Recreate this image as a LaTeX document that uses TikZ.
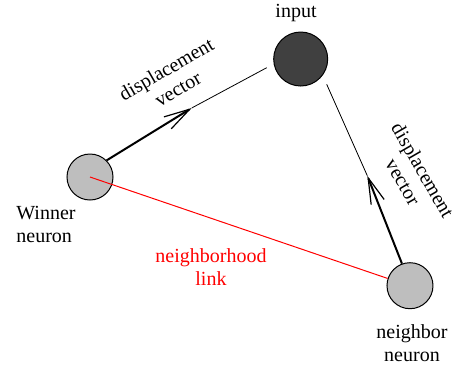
\documentclass[tikz,border=0pt]{standalone}
\usepackage{fontspec}
\setmainfont{Liberation Serif}
\newfontfamily\timesfont{Liberation Serif}
\usetikzlibrary{arrows.meta}
\definecolor{neurongray}{RGB}{190,190,190}
\definecolor{inputgray}{RGB}{64,64,64}
\begin{document}
\begin{tikzpicture}[x=0.5pt,y=-0.5pt,
  font=\timesfont\fontsize{10}{11.5}\selectfont,
  neuron/.style={circle,draw=black,line width=0.5pt,fill=neurongray,minimum size=23pt,inner sep=0pt},
  inputnode/.style={circle,draw=black,line width=0.5pt,fill=inputgray,minimum size=27pt,inner sep=0pt},
  vec/.style={line width=1pt,-{Straight Barb[length=13pt,width=7pt,line width=0.6pt]}},
  thinline/.style={line width=0.4pt},
  lbl/.style={align=center,inner sep=0pt}]
\useasboundingbox (0,0) rectangle (463,372);
\node[neuron] (W) at (90,177) {};
\node[inputnode] (I) at (300.7,59) {};
\node[neuron] (N) at (410,285.7) {};
\coordinate (t1) at (191.7,108);
\coordinate (e1) at (266.7,67.7);
\coordinate (t2) at (367.3,175.7);
\coordinate (e2) at (326.7,84.3);
\draw[red,line width=0.5pt] (W.center) -- (N.162);
\draw[vec] (W.45) -- (t1);
\draw[thinline] (t1) -- (e1);
\draw[vec] (N.110) -- (t2);
\draw[thinline] (t2) -- (e2);
\node[lbl] (Ilbl) at (296,13) {input};
\node[lbl,align=left,anchor=west] (Wlbl) at (16,224) {Winner\\neuron};
\node[lbl] (Nlbl) at (412,343) {neighbor\\neuron};
\node[lbl,text=red] (Llbl) at (211,267) {neighborhood\\link};
\node[lbl,rotate=30] (D1) at (172,79) {displacement\\vector};
\node[lbl,rotate=-60] (D2) at (413,176) {displacement\\vector};
\end{tikzpicture}
\end{document}
